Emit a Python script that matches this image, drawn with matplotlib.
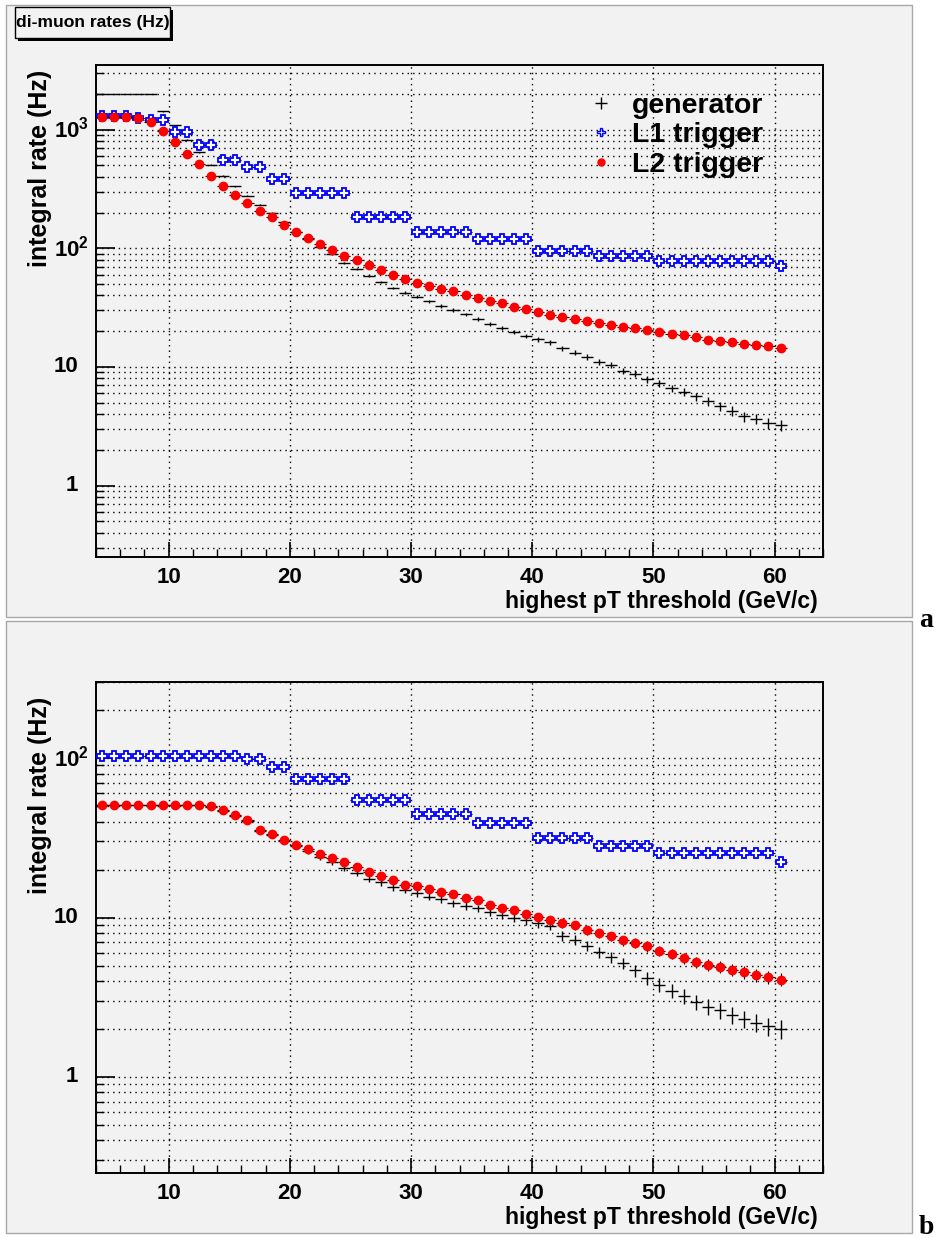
import numpy as np
import matplotlib
matplotlib.use('Agg')
import matplotlib.pyplot as plt
from matplotlib.patches import Rectangle
from matplotlib.lines import Line2D
from matplotlib.ticker import MultipleLocator, LogLocator, NullFormatter
from matplotlib.transforms import blended_transform_factory

plt.rcParams['font.family'] = ['Liberation Sans', 'DejaVu Sans']
plt.rcParams['font.weight'] = 'bold'
plt.rcParams['mathtext.fontset'] = 'custom'
plt.rcParams['mathtext.bf'] = 'Liberation Sans:bold'
plt.rcParams['mathtext.rm'] = 'Liberation Sans:bold'

# pT threshold bin centres (GeV/c), 1 GeV bins
thr = np.arange(4.5, 61.0, 1.0)

# ---- panel a : rates (Hz)
gen_a = [1990, 1990, 1990, 1990, 1990, 1420, 1087, 823, 643, 506,
         409, 332, 277, 232, 199, 165, 138, 119, 103, 89,
         75.5, 66.5, 58.7, 51.9, 46.2, 42.2, 39.0, 35.7, 32.6, 30.1,
         27.7, 25.3, 23.1, 21.3, 19.6, 18.2, 17.1, 16.1, 14.4, 13.2,
         12.1, 11.1, 10.4, 9.3, 8.77, 7.88, 7.28, 6.61, 6.20, 5.63,
         5.11, 4.64, 4.27, 3.82, 3.63, 3.35, 3.23]
l1_a = [1295, 1295, 1295, 1263, 1215, 1199, 956, 956, 737, 737,
        558, 558, 484, 484, 385, 385, 290, 290, 290, 290,
        290, 185, 185, 185, 185, 185, 138, 138, 138, 138,
        138, 120, 120, 120, 120, 120, 95.6, 95.6, 95.6, 95.6,
        95.6, 86.3, 86.3, 86.3, 86.3, 86.3, 78.8, 78.8, 78.8, 78.8,
        78.8, 78.8, 78.8, 78.8, 78.8, 78.8, 71.4]
l2_a = [1280, 1280, 1270, 1245, 1162, 975, 787, 623, 509, 409,
        336, 281, 240, 207, 182, 157, 137, 121, 108, 97,
        86, 79, 72, 65, 60, 55.4, 51.2, 48.1, 45.6, 43.3,
        40.6, 38.3, 35.9, 34.3, 32.1, 30.7, 29.0, 27.5, 26.4, 25.4,
        24.3, 23.3, 22.6, 21.8, 21.1, 20.6, 19.7, 19.0, 18.4, 17.7,
        17.0, 16.6, 16.1, 15.7, 15.3, 14.9, 14.5]

# ---- panel b
gen_b = [50.6, 50.6, 50.6, 50.6, 50.6, 50.6, 50.6, 50.6, 50.6, 49.5,
         46.5, 43.2, 40.3, 35.0, 32.7, 30.1, 28.0, 26.0, 24.0, 22.2,
         20.4, 19.1, 17.4, 16.6, 15.5, 14.9, 14.2, 13.5, 13.1, 12.3,
         11.8, 11.4, 10.9, 10.4, 10.0, 9.6, 9.2, 8.9, 7.7, 7.25,
         6.66, 6.07, 5.66, 5.18, 4.66, 4.18, 3.8, 3.48, 3.21, 2.96,
         2.75, 2.62, 2.44, 2.32, 2.19, 2.08, 2.0]
l1_b = [102.5, 102.5, 102.5, 102.5, 102.5, 102.5, 102.5, 102.5, 102.5, 102.5,
        102.5, 102.5, 98.1, 98.1, 87.9, 87.9, 73.9, 73.9, 73.9, 73.9,
        73.9, 54.2, 54.2, 54.2, 54.2, 54.2, 44.3, 44.3, 44.3, 44.3,
        44.3, 39.2, 39.2, 39.2, 39.2, 39.2, 31.6, 31.6, 31.6, 31.6,
        31.6, 28.2, 28.2, 28.2, 28.2, 28.2, 25.4, 25.4, 25.4, 25.4,
        25.4, 25.4, 25.4, 25.4, 25.4, 25.4, 22.4]
l2_b = [50.8, 50.8, 50.8, 50.8, 50.8, 50.8, 50.8, 50.8, 50.8, 49.9,
        47.0, 43.7, 40.9, 35.4, 33.2, 30.6, 28.6, 26.9, 25.0, 23.7,
        22.3, 20.8, 19.3, 18.3, 17.2, 16.1, 15.7, 15.2, 14.5, 14.0,
        13.3, 12.9, 11.9, 11.5, 11.1, 10.6, 10.1, 9.66, 9.23, 8.94,
        8.30, 8.0, 7.61, 7.18, 6.93, 6.60, 6.20, 5.93, 5.58, 5.24,
        5.04, 4.93, 4.70, 4.53, 4.34, 4.22, 4.08]

ytick_vals = [1, 10, 100, 1000]
ytick_txt = ['1', '10', r'$\mathbf{10^{2}}$', r'$\mathbf{10^{3}}$']

stat_t = 28.0  # s, exposure used for the statistical error bars

W, H = 935, 1238
bg = '#f2f2f2'
fig = plt.figure(figsize=(W / 100, H / 100), dpi=100, facecolor='white')

def fx(px):
    return px / W

def fy(py):
    return 1 - py / H

# pads
for top, bot in [(5, 617), (621, 1233)]:
    fig.patches.append(Rectangle((fx(6), fy(bot)), fx(912) - fx(6), fy(top) - fy(bot),
                                 transform=fig.transFigure, fc=bg, ec='#a8a8a8', lw=1, zorder=-5))

ax1 = fig.add_axes([fx(96), fy(557), 727 / W, 492 / H])
ax2 = fig.add_axes([fx(96), fy(1173), 727 / W, 491 / H])

def draw(ax, gen, l1, l2, ymax):
    gen = np.array(gen)
    l1 = np.array(l1)
    l2 = np.array(l2)
    ax.set_facecolor(bg)
    ax.errorbar(thr, gen, xerr=0.5, yerr=np.sqrt(gen / stat_t), fmt='none',
                ecolor='black', elinewidth=1.0, capsize=0, zorder=3)
    ax.errorbar(thr, l1, xerr=0.5, yerr=np.sqrt(l1 / stat_t), fmt='P', ms=6.5,
                mfc='white', mec='blue', mew=1.3, ecolor='black', elinewidth=0.8,
                capsize=0, zorder=4)
    ax.errorbar(thr, l2, xerr=0.5, yerr=np.sqrt(l2 / stat_t), fmt='o', ms=6,
                mfc='red', mec='red', ecolor='black', elinewidth=0.8,
                capsize=0, zorder=5)
    ax.set_yscale('log')
    ax.set_xlim(4, 64)
    ax.set_ylim(0.25, ymax)
    ax.xaxis.set_major_locator(MultipleLocator(10))
    ax.xaxis.set_minor_locator(MultipleLocator(2))
    ax.set_yticks([v for v in ytick_vals if v < ymax])
    ax.yaxis.set_minor_locator(LogLocator(base=10, subs=np.arange(2, 10)))
    ax.yaxis.set_minor_formatter(NullFormatter())
    ax.set_yticklabels([])
    # y tick labels drawn by hand so that 10^n sits like in ROOT
    tr = blended_transform_factory(ax.transAxes, ax.transData)
    for v, t in zip(ytick_vals, ytick_txt):
        if v >= ymax:
            continue
        if t.startswith('$'):
            ax.text(-0.0578, v, t, transform=tr, ha='left', va='center', fontsize=16,
                    fontweight='bold')
        else:
            ax.text(-0.0248, v, t, transform=tr, ha='right', va='center', fontsize=16,
                    fontweight='bold')
    ax.grid(True, axis='x', which='major', color='black', ls=(0, (1, 3)), lw=1.0)
    ax.grid(True, axis='y', which='both', color='black', ls=(0, (1, 3)), lw=1.0)
    ax.set_axisbelow(True)
    ax.tick_params(axis='y', which='major', direction='in', length=14, width=1.2, right=False)
    ax.tick_params(axis='y', which='minor', direction='in', length=6, width=1.0, right=False)
    ax.tick_params(axis='x', which='major', direction='in', length=11, width=1.2,
                   labelsize=16, pad=7, top=False)
    ax.tick_params(axis='x', which='minor', direction='in', length=6, width=1.0, top=False)
    for s in ax.spines.values():
        s.set_linewidth(1.4)
    ax.set_xlabel('highest pT threshold (GeV/c)', fontsize=16.5, fontweight='bold')
    ax.xaxis.set_label_coords(0.993, -0.067)
    ax.xaxis.label.set_ha('right')
    ax.xaxis.label.set_va('top')
    ax.set_ylabel('integral rate (Hz)', fontsize=18, fontweight='bold')
    ax.yaxis.label.set_ha('right')

draw(ax1, gen_a, l1_a, l2_a, 3500)
ax1.yaxis.set_label_coords(-0.0605, 0.99)

draw(ax2, gen_b, l1_b, l2_b, 300)
ax2.yaxis.set_label_coords(-0.0605, 0.97)

handles = [Line2D([], [], ls='none', marker='+', color='black', ms=9, mew=1.0),
           Line2D([], [], ls='none', marker='P', mfc='white', mec='blue', ms=6, mew=1.0),
           Line2D([], [], ls='none', marker='o', mfc='red', mec='red', ms=5)]
ax1.legend(handles, ['generator', 'L1 trigger', 'L2 trigger'], loc='upper left',
           bbox_to_anchor=(0.675, 0.943), frameon=False,
           prop=dict(size=20.5, weight='bold'), handlelength=1.0, handletextpad=0.6,
           labelspacing=0.12, borderpad=0, borderaxespad=0)

# title box with shadow
fig.patches.append(Rectangle((fx(18), fy(41)), fx(173) - fx(18), fy(10) - fy(41),
                             transform=fig.transFigure, fc='black', ec='none', zorder=5))
fig.patches.append(Rectangle((fx(15), fy(38)), fx(170) - fx(15), fy(7) - fy(38),
                             transform=fig.transFigure, fc=bg, ec='black', lw=1, zorder=6))
fig.text(fx(16), fy(23), 'di-muon rates (Hz)', fontsize=12.6, fontweight='bold',
         ha='left', va='center', zorder=7)

fig.text(fx(919), fy(627), 'a', family='Liberation Serif', fontsize=20,
         fontweight='bold', ha='left', va='baseline')
fig.text(fx(919), fy(1234), 'b', family='Liberation Serif', fontsize=20,
         fontweight='bold', ha='left', va='baseline')

fig.savefig('out.png', dpi=100, facecolor='white')
